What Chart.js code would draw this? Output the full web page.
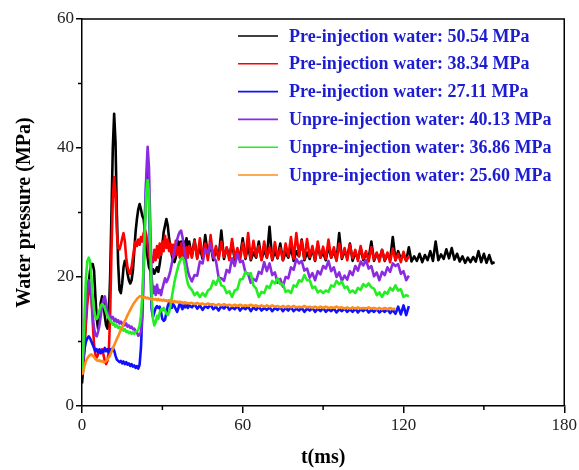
<!DOCTYPE html>
<html><head><meta charset="utf-8">
<script src="https://cdn.jsdelivr.net/npm/chart.js@4.4.1/dist/chart.umd.min.js"></script>
<style>html,body{margin:0;padding:0;background:#fff;}</style>
</head><body>
<canvas id="c" width="579" height="470"></canvas>
<script>
// time axis (ms)
const timeMs = [0,0.5,1,1.5,2,2.5,3,3.5,4,4.5,5,5.5,6,6.5,7,7.5,8,8.5,9,9.5,10,10.5,11,11.5,12,12.5,13,13.5,14,14.5,15,15.5,16,16.5,17,17.5,18,18.5,19,19.5,20,20.5,21,21.5,22,22.5,23,23.5,24,24.5,25,25.5,26,26.5,27,27.5,28,28.5,29,29.5,30,30.5,31,31.5,32,32.5,33,33.5,34,34.5,35,35.5,36,36.5,37,37.5,38,38.5,39,39.5,40,
41,42,43,44,45,46,47,48,49,50,51,52,53,54,55,56,57,58,59,60,61,62,63,64,65,66,67,68,69,70,71,72,73,74,75,76,77,78,79,80,81,82,83,84,85,86,87,88,89,90,91,92,93,94,95,96,97,98,99,100,101,102,103,104,105,106,107,108,109,110,111,112,113,114,115,116,117,118,119,120,121,122,123,124,125,126,127,128,129,130,131,132,133,134,135,136,137,138,139,140,141,142,143,144,145,146,147,148,149,150,151,152,153,154];

const seriesLabels = [
  'Pre-injection water: 50.54 MPa',
  'Pre-injection water: 38.34 MPa',
  'Pre-injection water: 27.11 MPa',
  'Unpre-injection water: 40.13 MPa',
  'Unpre-injection water: 36.86 MPa',
  'Unpre-injection water: 25.60 MPa'
];

// Water pressure (MPa)
const pre5054 = [
3.5,6,10,14,17,19,21,22,22,21,
17,13.5,12,13.5,16,17,16,14,12.5,12,
14,20,30,40,45.3,41,30,22,18,17.5,
19,21.5,22.5,22,20.5,19.5,19,19.5,21,24,
27,29,30.5,31.3,30.5,29.5,29,27,25,23,
21.5,21,20.8,21.2,20.5,21,21.5,20.8,22,23.5,
25,27,28,29,28,26,24.5,23.5,22.5,22.3,
23,24.5,25.5,24.8,25.5,24,25.5,24.5,26,24.8,
25.5,
23.2,25.8,23,24.6,22.8,26.5,23.4,25,22.6,24.2,
23,27.2,22.8,24.5,23.1,25.3,22.7,24,23.2,26,
22.8,24.8,22.6,23.8,23,25.5,22.7,24.2,23,27.8,
22.6,24,22.9,25.2,22.6,23.8,23,24.6,22.5,24,
23.2,25.8,22.6,23.8,22.8,24.4,22.5,25,23,23.8,
22.6,24.8,23,24,22.6,26.8,22.8,24,23,25.2,
22.5,23.8,22.8,24.5,22.6,23.6,22.9,25.5,22.5,23.6,
22.8,24.2,22.5,23.5,22.7,26.2,22.6,24,22.8,23.5,
22.5,24.6,22.4,23.2,22.5,23.6,22.3,23.4,22.6,24,
22.5,25.5,22.6,23.5,22.8,24.3,22.9,24.5,22.7,23.6,
22.4,23.2,22.2,23,22.3,23.1,22.4,24,22.3,23.6,
22.2,23.4,22.1,22.3];

const pre3834 = [
5,7,10,13,16,17.5,18.5,17,13,9.5,
8,7.5,8,8.5,8.2,8.8,8,7,6.5,7,
8.5,14,24,32,35.5,33,27,24.5,24.3,25,
26,26.8,25.5,23,21.5,20.8,20.5,21.5,23,24.5,
25.5,24.8,25.8,25,26.2,25.5,26.8,27.3,26.5,25,
23.5,22.5,23,22.3,24.2,22.6,24.8,23,25.2,23.4,
25.5,24,26.4,24.5,25.8,24,25.2,23.5,25,23.2,
25.6,23.5,24.6,23,25.2,23.2,24.4,22.8,24.6,23,
24.8,
23,25.6,22.8,26,23.2,25.2,22.6,26.5,23,24.8,
22.7,25.5,23.1,24.6,22.6,25.9,22.9,24.5,22.6,25.3,
23,26.8,22.8,25.6,23.2,24.8,22.6,25.5,23,24.6,
22.7,25.4,23,24.5,22.6,25.2,23.2,26.2,22.8,26.8,
23.3,25.6,22.8,25.9,23.1,24.8,22.6,25.5,23,24.7,
22.8,25.8,23,24.6,22.5,25.2,23,24.5,22.6,25,
22.9,24.2,22.5,24.8,22.8,24,22.4,24.6,22.7,23.8,
22.4,24.2,22.6,23.8,22.3,24.4,22.6,23.6,22.3,23.9,
22.5,23.2];

const pre2711 = [
6,7.5,9,10,10.5,10.8,10.5,10,9.5,9,
8.5,8.8,8.3,8.8,8.2,8.6,8.4,9,8.5,8.8,
8.3,8.8,8.5,9,8.6,7.8,7.2,7,6.8,7,
6.6,6.9,6.5,6.8,6.4,6.6,6.2,6.5,6.1,6.3,
5.9,6.2,5.8,6.4,9,14,22,30,35,36.5,
32,22,15,13.8,14.5,15.2,15.5,15.2,15.4,14.5,
13.5,13.2,13.4,14.5,15.5,16,15.6,15.2,15.8,15.5,
15,14.6,15.2,16,15.5,15,15.8,15.3,15.9,15.2,
15.6,
15.3,15.8,15.1,15.6,14.9,15.5,15.2,15.7,15,15.4,
14.8,15.5,15.1,15.6,14.9,15.3,15,15.5,14.8,15.3,
15,15.4,14.7,15.3,14.9,15.4,14.8,15.2,14.9,15.3,
14.7,15.2,14.9,15.3,14.7,15.2,14.8,15.3,14.7,15.1,
14.8,15.2,14.6,15.1,14.8,15.2,14.6,15.1,14.7,15.2,
14.6,15,14.7,15.1,14.5,15,14.7,15.1,14.6,15,
14.6,15.1,14.5,15,14.7,15.1,14.5,14.9,14.6,15,
14.5,14.9,14.6,15,14.4,14.9,14.3,15.4,14.2,15.6,
14.1,15.5];

const unpre4013 = [
5,8,12,15.5,18,19.5,19,17,14,12,
11,10.8,11.5,12.5,14,15.5,16.5,17,16,14.5,
13.8,14,13.6,13.8,13.2,13.5,13,13.3,12.8,13.1,
12.7,12.9,12.5,12.8,12.3,12.5,12.1,12.3,11.9,12,
11.5,11.4,10.9,11,11.5,14,20,28,36,40.2,
37,28,20,17.5,18.5,17.2,18.8,17.5,18,17.2,
18.2,19,19.8,19.2,19.6,20.2,21,22,23.2,24,
25,25.8,26.5,27,27.2,26.2,25,23.5,22,21,
20.2,
19.3,20.3,20.2,22.4,22.1,24.3,23.7,25.2,23.1,22.5,
19.9,19.8,19.4,21.1,20.7,22.9,21.7,23.6,22.3,22.5,
20.7,20.5,19.1,19.7,19.4,20.8,20.5,22.3,20.9,22.1,
20.3,20.7,19.1,19.7,18.5,20,19.8,21.5,21.1,22.8,
22.1,22.5,21,21.3,19.9,20.6,19.5,20.9,20.4,21.7,
21.3,22.5,20.9,21.5,20,20.7,19.4,20.2,19.6,20.9,
20.3,21.7,21,22.4,21.8,22.6,21.3,21.7,20.1,20.7,
19.5,20.8,20.3,21.5,20.8,22.1,21.7,22,20.5,20.9,
19.5,20.2];

const unpre3686 = [
5,9,15,20,22.5,23,22.5,20,17,15,
13.8,13.5,14,14.8,15.5,15.8,15.6,15.2,14.5,14,
13.6,13.3,13,12.6,12.8,12.3,12.5,12.1,12.3,11.9,
12.1,11.7,11.9,11.5,11.6,11.3,11.5,11.2,11.4,11.2,
11.5,11.6,11.8,12.5,14,17,22,28,33,35,
33,25,17,13.5,12.5,13,14,13.5,14.5,15,
14.8,15.2,14.8,14.3,14.1,14.5,15.5,16.8,18,19.2,
20.2,21,21.8,22.4,22.8,23,22.6,21.5,20,19,
18.5,
18,17.2,17.6,16.9,17.5,17,17.9,18.2,19.4,18.8,
19.9,18.7,18.5,17.5,17.8,16.9,17.9,18.1,19.6,19.7,
20.8,20.4,20.6,18.7,18.2,16.9,17.7,17.5,18.6,18.3,
19.4,19,19.8,18.9,18.9,17.7,17.9,17.5,18.7,18.5,
19.5,19.3,20.3,19.5,19.5,18.3,18.5,17.6,17.9,17.5,
17.9,17.7,18.7,18.5,19.4,18.9,19.3,18.3,18.5,17.6,
17.9,17.5,18.3,18,18.9,18.5,19,18.4,18.2,17.2,
17.6,16.9,17.7,17.4,18.3,17.9,18.7,17.9,18.1,16.9,
17.2,17];

const unpre2560 = [
4.8,5.5,6.3,7,7.4,7.7,7.9,8,7.8,7.6,
7.3,7.1,7,7.1,6.9,7,6.8,6.8,7,7.2,
7.5,7.9,8.4,8.9,9.4,9.9,10.4,10.8,11.3,11.8,
12.2,12.7,13.2,13.6,14.1,14.5,14.9,15.3,15.7,16,
16.3,16.6,16.8,17,17,16.9,16.8,16.9,16.7,16.8,
16.6,16.7,16.5,16.6,16.5,16.6,16.4,16.6,16.4,16.5,
16.3,16.5,16.3,16.4,16.2,16.4,16.2,16.3,16.1,16.3,
16.1,16.2,16,16.2,16,16.1,15.9,16.1,15.9,16,
15.9,
16,15.8,16,15.8,15.9,15.7,15.9,15.7,15.8,15.6,
15.8,15.6,15.8,15.6,15.7,15.5,15.7,15.5,15.7,15.5,
15.6,15.5,15.7,15.5,15.6,15.4,15.6,15.4,15.6,15.4,
15.6,15.4,15.5,15.3,15.5,15.3,15.5,15.3,15.5,15.3,
15.4,15.3,15.5,15.3,15.4,15.2,15.4,15.2,15.4,15.2,
15.4,15.2,15.3,15.2,15.4,15.2,15.3,15.1,15.3,15.1,
15.3,15.1,15.3,15.1,15.2,15.1,15.3,15.1,15.2,15,
15.2,15,15.2,15,15.2,15,15.1];

const xTickLabels = [0, 60, 120, 180];
const xMinorTicks = [30, 90, 150];
const yTickLabels = [0, 20, 40, 60];
const yMinorTicks = [10, 30, 50];

const seriesValues = [pre5054, pre3834, pre2711, unpre4013, unpre3686, unpre2560];
const seriesColors = ['#000000', '#ff0000', '#1010ff', '#8a2be2', '#22ee22', '#ff8c1a'];
const drawOrder = [5, 4, 3, 2, 1, 0];

const SERIF = '"Liberation Serif", "Times New Roman", serif';

const datasets = seriesValues.map((vals, k) => ({
  label: seriesLabels[k],
  data: vals.map((v, i) => ({ x: timeMs[i], y: v })),
  borderColor: seriesColors[k],
  backgroundColor: seriesColors[k],
  borderWidth: 2.6,
  pointRadius: 0,
  tension: 0,
  fill: false,
  borderJoinStyle: 'round',
  order: drawOrder[k]
}));

const framePlugin = {
  id: 'frame',
  afterDraw(chart) {
    const { ctx, chartArea: a, scales } = chart;
    ctx.save();
    ctx.strokeStyle = '#000';
    ctx.lineWidth = 1.5;
    ctx.beginPath();
    ctx.moveTo(a.left, a.top);
    ctx.lineTo(a.right, a.top);
    ctx.lineTo(a.right, a.bottom);
    ctx.stroke();
    // short minor ticks
    ctx.beginPath();
    xMinorTicks.forEach(v => {
      const px = scales.x.getPixelForValue(v);
      ctx.moveTo(px, a.bottom);
      ctx.lineTo(px, a.bottom + 4);
    });
    yMinorTicks.forEach(v => {
      const py = scales.y.getPixelForValue(v);
      ctx.moveTo(a.left, py);
      ctx.lineTo(a.left - 4, py);
    });
    ctx.stroke();
    ctx.restore();
  }
};

const legendPlugin = {
  id: 'insideLegend',
  afterDraw(chart) {
    const { ctx, chartArea: a } = chart;
    ctx.save();
    ctx.font = 'bold 18px ' + SERIF;
    ctx.textBaseline = 'middle';
    ctx.textAlign = 'left';
    chart.data.datasets.forEach((ds, i) => {
      const y = a.top + 17 + i * 27.8;
      const x0 = a.left + 156;
      ctx.strokeStyle = ds.borderColor;
      ctx.lineWidth = 1.6;
      ctx.beginPath();
      ctx.moveTo(x0, y);
      ctx.lineTo(x0 + 40, y);
      ctx.stroke();
      ctx.fillStyle = '#1c1cd0';
      ctx.fillText(ds.label, x0 + 51, y + 1);
    });
    ctx.restore();
  }
};

const majorOnly = (labels) => (c) => labels.includes(c.tick.value) ? '#000' : 'rgba(0,0,0,0)';

new Chart(document.getElementById('c'), {
  type: 'line',
  data: { datasets },
  options: {
    responsive: false,
    devicePixelRatio: 1,
    animation: false,
    layout: { padding: { left: 0, right: 13, top: 19, bottom: 0 } },
    plugins: { legend: { display: false }, tooltip: { enabled: false } },
    scales: {
      x: {
        type: 'linear', min: 0, max: 180,
        ticks: {
          stepSize: 30, autoSkip: false, maxRotation: 0, padding: 2,
          color: '#222', font: { family: SERIF, size: 17 },
          callback: v => xTickLabels.includes(v) ? String(v) : ''
        },
        grid: { drawOnChartArea: false, drawTicks: true, tickLength: 7, color: '#000', tickColor: majorOnly(xTickLabels), lineWidth: 1.5 },
        border: { color: '#000', width: 1.5 },
        title: { display: true, text: 't(ms)', color: '#000', font: { family: SERIF, size: 20, weight: 'bold' }, padding: { top: 0, bottom: 0 } },
        afterFit: s => { s.height = 64; }
      },
      y: {
        type: 'linear', min: 0, max: 60,
        ticks: {
          stepSize: 10, autoSkip: false, padding: 2,
          color: '#222', font: { family: SERIF, size: 17 },
          callback: v => yTickLabels.includes(v) ? String(v) : ''
        },
        grid: { drawOnChartArea: false, drawTicks: true, tickLength: 6, color: '#000', tickColor: majorOnly(yTickLabels), lineWidth: 1.5 },
        border: { color: '#000', width: 1.5 },
        title: { display: true, text: 'Water pressure (MPa)', color: '#000', font: { family: SERIF, size: 20, weight: 'bold' }, padding: { top: 13, bottom: 0 } },
        afterFit: s => { s.width = 82; }
      }
    }
  },
  plugins: [framePlugin, legendPlugin]
});
</script>
</body></html>
